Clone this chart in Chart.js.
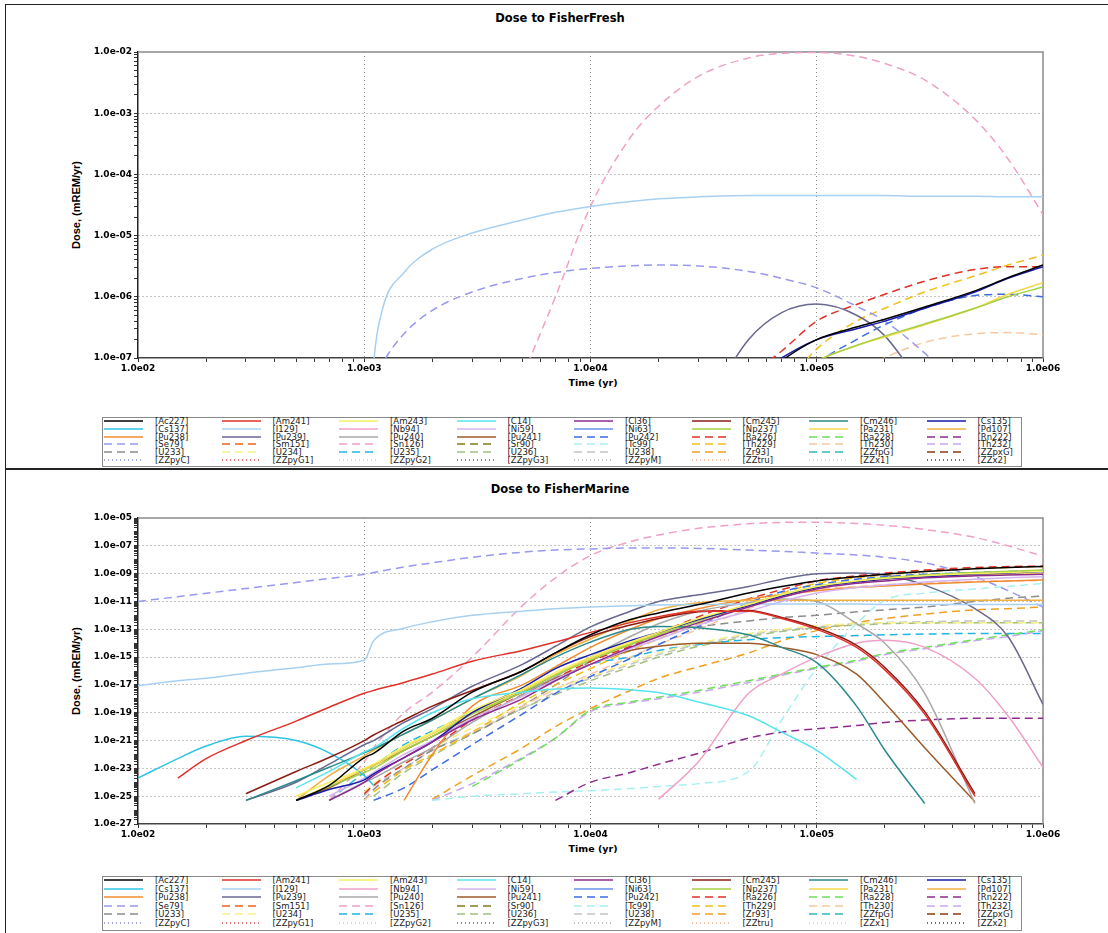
<!DOCTYPE html>
<html>
<head>
<meta charset="utf-8">
<script src="https://cdn.jsdelivr.net/npm/chart.js@4.4.0/dist/chart.umd.min.js"></script>
<style>
  body { margin: 0; width: 1108px; height: 933px; overflow: hidden; background: #fff; position: relative; }
  .panel { position: absolute; left: 5px; width: 1110px; border: 1px solid #222; }
  canvas { position: absolute; left: 0; }
  .title { position: absolute; left: 0; width: 1120px; text-align: center; font: bold 11.5px "DejaVu Sans", sans-serif; color: #000; }
  .xtitle { position: absolute; font: bold 9.5px "DejaVu Sans", sans-serif; transform: translateX(-50%); white-space: nowrap; }
  .ytitle { position: absolute; font: bold 11px "Liberation Sans Narrow", "Liberation Sans", sans-serif; transform: translate(-50%, -50%) rotate(-90deg); white-space: nowrap; }
  .legend { position: absolute; left: 102px; width: 918px; border: 1px solid #8a8a8a; }
  .lg { position: absolute; font: 8.5px "DejaVu Sans", sans-serif; color: #222; line-height: 8px; white-space: nowrap; }
  .sw { position: absolute; }
</style>
</head>
<body>
<div class="panel" style="top:4px;height:463px"></div>
<div class="panel" style="top:469px;height:470px"></div>

<div class="title" style="top:11px">Dose to FisherFresh</div>
<div class="title" style="top:482px">Dose to FisherMarine</div>
<div class="xtitle" style="left:593px;top:377px">Time (yr)</div>
<div class="xtitle" style="left:593px;top:843px">Time (yr)</div>
<div class="ytitle" style="left:76px;top:205px">Dose, (mREM/yr)</div>
<div class="ytitle" style="left:76px;top:671px">Dose, (mREM/yr)</div>

<canvas id="fresh" width="1108" height="400" style="top:0"></canvas>
<canvas id="marine" width="1108" height="400" style="top:468px"></canvas>

<script>
const _ = null;

// legend order (8 per row)
const nuclides = [
  "Ac227", "Am241", "Am243", "C14", "Cl36", "Cm245", "Cm246", "Cs135",
  "Cs137", "I129", "Nb94", "Ni59", "Ni63", "Np237", "Pa231", "Pd107",
  "Pu238", "Pu239", "Pu240", "Pu241", "Pu242", "Ra226", "Ra228", "Rn222",
  "Se79", "Sm151", "Sn126", "Sr90", "Tc99", "Th229", "Th230", "Th232",
  "U233", "U234", "U235", "U236", "U238", "Zr93", "ZZfpG", "ZZpxG",
  "ZZpyC", "ZZpyG1", "ZZpyG2", "ZZpyG3", "ZZpyM", "ZZtru", "ZZx1", "ZZx2"
];
const lineColors = [
  "#000000", "#e0302a", "#f4f060", "#58e4ee", "#8e2a8e", "#8b1c14", "#2a8a8a", "#1a1aa8",
  "#2ec4e4", "#a8d0f0", "#f0a0c8", "#d4b4f0", "#6890e8", "#a4d044", "#f4d84c", "#f0b040",
  "#f08c30", "#686890", "#a8a8a8", "#9c5a28", "#3c6ce0", "#e0302a", "#6ce058", "#8e2a8e",
  "#9898f0", "#f06418", "#f0a0c8", "#7c7c1c", "#a8f0f0", "#f0c018", "#f8c8a0", "#c8a8f0",
  "#8c8c8c", "#f8f088", "#20b4e0", "#a4c080", "#c4c4c4", "#f0a020", "#30b8b8", "#8c3c10",
  "#8888c8", "#e04848", "#a8f088", "#983c90", "#b0b0b0", "#f0b088", "#d0d0d0", "#404040"
];

// ---- Dose to FisherFresh (values before 1e3 yr are all below 1e-7) ----
const freshTime = [1000, 1100, 1200, 1500, 2000, 3000, 5000, 7000, 10000, 15000, 20000,
  30000, 50000, 70000, 100000, 150000, 200000, 300000, 500000, 700000, 1000000];
const fI129  = [1e-10, 8e-8, 6e-7, 2.5e-6, 6e-6, 1.1e-5, 1.8e-5, 2.4e-5, 3.0e-5, 3.6e-5, 4.0e-5, 4.3e-5, 4.5e-5, 4.5e-5, 4.5e-5, 4.5e-5, 4.5e-5, 4.4e-5, 4.4e-5, 4.3e-5, 4.3e-5];
const fSe79  = [1e-8, 4e-8, 8e-8, 2.5e-7, 6e-7, 1.2e-6, 2e-6, 2.5e-6, 2.9e-6, 3.2e-6, 3.3e-6, 3.2e-6, 2.6e-6, 2e-6, 1.4e-6, 7e-7, 4e-7, 1.2e-7, 2e-8, _, _];
const fSn126 = [_, _, _, _, _, _, 5e-8, 1e-6, 3e-5, 4e-4, 1.3e-3, 4e-3, 8e-3, 9.5e-3, 9.8e-3, 8.5e-3, 6.5e-3, 3.5e-3, 8e-4, 1.8e-4, 2.2e-5];
const fPu239 = [_, _, _, _, _, _, _, _, _, _, _, 1e-8, 2e-7, 5.5e-7, 7.6e-7, 5e-7, 2.3e-7, 3e-8, _, _, _];
const fRa226 = [_, _, _, _, _, _, _, _, _, _, _, _, 5e-8, 1.3e-7, 4e-7, 7.5e-7, 1.1e-6, 1.8e-6, 2.8e-6, 3.1e-6, 3.1e-6];
const fTh229 = [_, _, _, _, _, _, _, _, _, _, _, _, _, 3e-8, 1.4e-7, 4e-7, 6.5e-7, 1.2e-6, 2.2e-6, 3.3e-6, 4.8e-6];
const fCs135 = [_, _, _, _, _, _, _, _, _, _, _, _, 4e-8, 1e-7, 2e-7, 3e-7, 4e-7, 6.5e-7, 1.2e-6, 2e-6, 3.1e-6];
const fAc227 = [_, _, _, _, _, _, _, _, _, _, _, _, 3e-8, 9e-8, 2e-7, 3.2e-7, 4.3e-7, 6.8e-7, 1.25e-6, 2.05e-6, 3.3e-6];
const fPa231 = [_, _, _, _, _, _, _, _, _, _, _, _, _, 4e-8, 9e-8, 1.6e-7, 2.2e-7, 3.5e-7, 6.5e-7, 1.1e-6, 1.7e-6];
const fNp237 = [_, _, _, _, _, _, _, _, _, _, _, _, _, 4e-8, 9e-8, 1.6e-7, 2.3e-7, 3.6e-7, 6.5e-7, 1e-6, 1.45e-6];
const fPu242 = [_, _, _, _, _, _, _, _, _, _, _, _, _, 2e-8, 8e-8, 2e-7, 3.5e-7, 6.5e-7, 1.05e-6, 1.1e-6, 1e-6];
const fTh230 = [_, _, _, _, _, _, _, _, _, _, _, _, _, _, _, 5e-8, 1e-7, 1.8e-7, 2.5e-7, 2.6e-7, 2.4e-7];

// ---- Dose to FisherMarine ----
const marineTime = [100, 150, 200, 300, 500, 700, 1000, 1100, 1500, 2000, 3000, 5000, 7000,
  10000, 15000, 20000, 30000, 50000, 70000, 100000, 150000, 200000, 300000, 500000, 700000, 1000000];
const mAc227 = [_, _, _, _, 5e-26, 6e-25, 6e-23, 1.2e-22, 5e-21, 4e-20, 3e-18, 1e-16, 2e-15, 4e-14, 5e-13, 1.5e-12, 6e-12, 4e-11, 1.2e-10, 3e-10, 6e-10, 9e-10, 1.4e-9, 2.2e-9, 2.8e-9, 3.3e-9];
const mAm241 = [_, 2e-24, 5e-23, 1e-21, 2.5e-20, 2.5e-19, 2.5e-18, 4e-18, 1.5e-17, 6e-17, 5e-16, 3e-15, 1.2e-14, 6e-14, 3e-13, 8e-13, 2e-12, 2e-12, 6e-13, 1e-13, 5e-15, 1.2e-16, 8e-20, 1e-25, _, _];
const mAm243 = [_, _, _, _, 1e-25, 1e-24, 1e-23, 2e-23, 4e-22, 4e-21, 1.5e-19, 5e-18, 8e-17, 1e-15, 1.2e-14, 6e-14, 6e-13, 6e-12, 3e-11, 1.2e-10, 3e-10, 4.5e-10, 7e-10, 1e-9, 1.2e-9, 1.5e-9];
const mC14   = [_, _, _, _, 4e-25, 6e-24, 1.5e-22, 3e-22, 8e-21, 1e-19, 1e-18, 3e-18, 5e-18, 6e-18, 4.5e-18, 2.8e-18, 6e-19, 6e-20, 4e-21, 2e-22, 1.6e-24, _, _, _, _, _];
const mCl36  = [_, _, _, _, _, 5e-26, 1e-24, 3e-24, 6e-23, 8e-22, 3e-20, 1e-18, 2e-17, 3e-16, 5e-15, 3e-14, 3e-13, 4e-12, 2e-11, 8e-11, 2e-10, 3e-10, 5e-10, 7e-10, 8e-10, 9e-10];
const mCm245 = [_, _, _, 1.5e-25, 6e-24, 6e-23, 1e-21, 2.5e-21, 3e-20, 3e-19, 4e-18, 1e-16, 2e-15, 3e-14, 2e-13, 6e-13, 1.8e-12, 2.2e-12, 7e-13, 1.3e-13, 7e-15, 1.8e-16, 1.2e-19, 1.5e-25, _, _];
const mCm246 = [_, _, _, 5e-26, 1.3e-24, 1.2e-23, 1.3e-22, 2.5e-22, 3e-21, 3e-20, 1e-18, 6e-17, 1e-15, 1.2e-14, 1e-13, 1.6e-13, 1.3e-13, 4e-14, 5e-15, 4e-16, 3e-19, 2e-22, 3e-26, _, _, _];
const mCs135 = [_, _, _, _, 5e-26, 3e-25, 1.5e-24, 4e-24, 6e-23, 8e-22, 1e-19, 6e-18, 1.5e-16, 1.5e-15, 1.5e-14, 6e-14, 5e-13, 5e-12, 2.5e-11, 1e-10, 2.5e-10, 4e-10, 6e-10, 9e-10, 1.1e-9, 1.4e-9];
const mCs137 = [2e-24, 5e-23, 4e-22, 2e-21, 1e-21, 1.3e-22, 3e-24, 6e-25, _, _, _, _, _, _, _, _, _, _, _, _, _, _, _, _, _, _];
const mI129  = [9e-18, 2e-17, 3e-17, 7e-17, 1.7e-16, 3.2e-16, 6e-16, 1.5e-14, 1.2e-13, 3.5e-13, 1e-12, 2e-12, 3e-12, 4e-12, 5e-12, 5.5e-12, 6e-12, 6.5e-12, 6.5e-12, 6.5e-12, 6.5e-12, 6e-12, 6e-12, 6e-12, 6e-12, 6e-12];
const mNb94  = [_, _, _, _, _, _, _, _, _, _, _, _, _, _, _, 6e-26, 3e-23, 2.5e-18, 6e-17, 1e-15, 1e-14, 1.6e-14, 5e-15, 3e-17, 6e-20, 1.2e-23];
const mNi59  = [_, _, _, _, _, 1e-25, 2e-24, 5e-24, 1e-22, 1e-21, 4e-20, 1.5e-18, 2.5e-17, 3e-16, 4e-15, 2e-14, 2e-13, 2e-12, 1e-11, 4e-11, 1e-10, 1.5e-10, 2.5e-10, 4e-10, 5e-10, 6e-10];
const mNp237 = [_, _, _, _, 5e-26, 5e-25, 5e-24, 1e-23, 2e-22, 2e-21, 8e-20, 3e-18, 5e-17, 6e-16, 8e-15, 4e-14, 4e-13, 6e-12, 3e-11, 1.2e-10, 3e-10, 5e-10, 8e-10, 1.2e-9, 1.5e-9, 1.8e-9];
const mPa231 = [_, _, _, _, 5e-26, 6e-25, 8e-24, 1.5e-23, 3e-22, 3e-21, 1e-19, 4e-18, 6e-17, 8e-16, 1e-14, 5e-14, 5e-13, 5e-12, 2.5e-11, 1e-10, 2.5e-10, 4e-10, 6e-10, 8e-10, 9e-10, 1e-9];
const mPd107 = [_, _, _, _, 5e-26, 3e-24, 8e-23, 2e-22, 3e-21, 3e-20, 1e-18, 5e-17, 1.5e-15, 2e-14, 4e-13, 2.5e-12, 8e-12, 1.15e-11, 1.2e-11, 1.2e-11, 1.2e-11, 1.2e-11, 1.2e-11, 1.2e-11, 1.2e-11, 1.2e-11];
const mPu238 = [_, _, _, _, _, _, _, _, 5e-26, 1e-22, 3e-19, 1e-17, 2e-16, 5e-15, 1e-13, 6e-13, 3e-12, 1.5e-11, 3e-11, 6e-11, 1e-10, 1.3e-10, 1.8e-10, 2.5e-10, 3e-10, 3.5e-10];
const mPu239 = [_, _, _, 5e-26, 1e-24, 2e-23, 5e-22, 1e-21, 2e-20, 2e-19, 8e-18, 3e-16, 6e-15, 1.5e-13, 2e-12, 1e-11, 3e-11, 1.2e-10, 4e-10, 1e-9, 1.1e-9, 8e-10, 1.5e-10, 3e-12, 3e-14, 4e-19];
const mPu240 = [_, _, _, _, _, 5e-26, 1e-24, 2e-24, 3e-23, 3e-22, 2e-20, 2e-18, 4e-17, 1e-15, 3e-14, 2.5e-13, 2e-12, 8e-12, 1.5e-11, 1e-11, 2.5e-13, 1e-14, 2.5e-18, 3e-26, _, _];
const mPu241 = [_, _, _, _, 5e-26, 4e-25, 8e-24, 1.6e-23, 2e-22, 2e-21, 5e-20, 3e-18, 3e-17, 3e-16, 3e-15, 6e-15, 1e-14, 1e-14, 5e-15, 1.5e-15, 6e-17, 5e-19, 3e-22, 4e-26, _, _];
const mPu242 = [_, _, _, _, _, _, _, 5e-26, 4e-25, 8e-24, 5e-22, 8e-20, 2.5e-18, 4e-17, 8e-16, 8e-15, 1.6e-13, 8e-12, 5e-11, 1.6e-10, 4e-10, 6e-10, 9e-10, 1.2e-9, 1.4e-9, 1.6e-9];
const mRa226 = [_, _, _, _, _, _, 1.5e-25, 6e-25, 2e-23, 3e-22, 3e-20, 2e-18, 3e-17, 5e-16, 6e-15, 5e-14, 8e-13, 1.5e-11, 7e-11, 3e-10, 7e-10, 1.1e-9, 1.8e-9, 2.8e-9, 3.2e-9, 3.5e-9];
const mRa228 = [_, _, _, _, _, _, _, _, _, _, 5e-25, 5e-23, 1.5e-21, 1.5e-19, 6e-19, 1.3e-18, 4e-18, 2e-17, 6e-17, 1.8e-16, 6e-16, 1.8e-15, 5e-15, 1.8e-14, 4e-14, 9e-14];
const mRn222 = [_, _, _, _, _, _, _, _, _, _, _, _, 5e-26, 1e-24, 5e-24, 2e-23, 1.2e-22, 1.5e-21, 4e-21, 7e-21, 1.2e-20, 2e-20, 3e-20, 4e-20, 4e-20, 4e-20];
const mSe79  = [1e-11, 2.2e-11, 3.9e-11, 8.5e-11, 2.3e-10, 4.5e-10, 9e-10, 1.2e-9, 3e-9, 6e-9, 1.5e-8, 3.5e-8, 5e-8, 6e-8, 7e-8, 7e-8, 6.5e-8, 5e-8, 4e-8, 3e-8, 2.2e-8, 1.5e-8, 6e-9, 6e-10, 6e-11, 4e-12];
const mSn126 = [_, _, _, _, _, 5e-26, 3e-23, 3e-22, 1e-19, 3e-18, 1e-15, 5e-12, 5e-10, 2e-8, 2e-7, 6e-7, 1.8e-6, 3.8e-6, 4.8e-6, 5e-6, 4e-6, 3e-6, 1.5e-6, 4e-7, 1e-7, 1.8e-8];
const mTc99  = [_, _, _, _, _, _, _, _, _, 5e-26, 1e-25, 1.5e-25, 2e-25, 2.5e-25, 3.5e-25, 5e-25, 8e-25, 6e-24, 3e-20, 1.6e-16, 2.5e-13, 1.2e-11, 4e-11, 8e-11, 1.2e-10, 2e-10];
const mTh229 = [_, _, _, _, _, _, _, 2e-25, 8e-24, 1e-22, 4e-21, 6e-19, 1e-17, 1.5e-16, 3e-15, 2e-14, 2.5e-13, 6e-12, 4e-11, 2e-10, 5e-10, 8e-10, 1.4e-9, 2.3e-9, 2.8e-9, 3.2e-9];
const mTh230 = [_, _, _, _, _, _, 5e-26, 2e-25, 8e-24, 1e-22, 4e-21, 3e-19, 5e-18, 6e-17, 1e-15, 8e-15, 1e-13, 3e-12, 2e-11, 7e-11, 1.2e-10, 1.6e-10, 2.2e-10, 2.8e-10, 3e-10, 3.2e-10];
const mTh232 = [_, _, _, _, _, _, _, _, _, 5e-26, 8e-25, 6e-23, 1.5e-21, 1.2e-19, 5e-19, 1e-18, 3e-18, 1.5e-17, 5e-17, 1.5e-16, 5e-16, 1.5e-15, 4e-15, 1.5e-14, 3e-14, 8e-14];
const mU233  = [_, _, _, _, _, _, 5e-26, 3e-25, 1e-23, 2e-22, 3e-21, 3e-19, 1e-17, 5e-16, 8e-15, 4e-14, 1.5e-13, 4e-13, 7e-13, 1e-12, 1.8e-12, 2.5e-12, 4e-12, 1e-11, 1.7e-11, 2.5e-11];
const mU234  = [_, _, _, _, _, _, 2e-25, 8e-25, 2e-23, 3e-22, 8e-21, 4e-19, 5e-18, 4e-17, 4e-16, 2e-15, 1e-14, 5e-14, 1e-13, 1.8e-13, 2.5e-13, 3e-13, 3e-13, 3e-13, 3e-13, 3e-13];
const mU235  = [_, _, _, _, _, 5e-26, 5e-24, 1.5e-23, 5e-22, 5e-21, 1e-19, 3e-18, 2e-17, 3e-16, 1e-15, 3e-15, 8e-15, 1.8e-14, 2.5e-14, 3e-14, 3.5e-14, 4e-14, 4.5e-14, 5e-14, 5e-14, 5e-14];
const mU236  = [_, _, _, _, _, _, _, 1e-25, 5e-24, 8e-23, 3e-21, 2e-19, 2e-18, 2e-17, 2e-16, 1e-15, 6e-15, 3e-14, 7e-14, 1.3e-13, 2e-13, 2.5e-13, 2.8e-13, 3e-13, 3e-13, 3e-13];
const mU238  = [_, _, _, _, _, _, 1e-25, 5e-25, 1e-23, 2e-22, 4e-21, 2e-19, 3e-18, 3e-17, 3e-16, 1.5e-15, 8e-15, 4e-14, 8e-14, 1.5e-13, 2.5e-13, 3e-13, 3.5e-13, 4e-13, 4e-13, 4e-13];
const mZr93  = [_, _, _, _, _, _, _, _, _, 6e-26, 3e-24, 3e-22, 1e-20, 2e-19, 4e-18, 3e-17, 2e-16, 2e-15, 1.5e-14, 8e-14, 3e-13, 6e-13, 1.2e-12, 2.5e-12, 3e-12, 4e-12];

const freshSeries = [
  ["Ac227", fAc227], ["Cs135", fCs135], ["I129", fI129], ["Np237", fNp237], ["Pa231", fPa231],
  ["Pu239", fPu239], ["Pu242", fPu242], ["Ra226", fRa226], ["Se79", fSe79], ["Sn126", fSn126],
  ["Th229", fTh229], ["Th230", fTh230]
];
const marineSeries = [
  ["Ac227", mAc227], ["Am241", mAm241], ["Am243", mAm243], ["C14", mC14], ["Cl36", mCl36],
  ["Cm245", mCm245], ["Cm246", mCm246], ["Cs135", mCs135], ["Cs137", mCs137], ["I129", mI129],
  ["Nb94", mNb94], ["Ni59", mNi59], ["Np237", mNp237], ["Pa231", mPa231], ["Pd107", mPd107],
  ["Pu238", mPu238], ["Pu239", mPu239], ["Pu240", mPu240], ["Pu241", mPu241], ["Pu242", mPu242],
  ["Ra226", mRa226], ["Ra228", mRa228], ["Rn222", mRn222], ["Se79", mSe79], ["Sn126", mSn126],
  ["Tc99", mTc99], ["Th229", mTh229], ["Th230", mTh230], ["Th232", mTh232], ["U233", mU233],
  ["U234", mU234], ["U235", mU235], ["U236", mU236], ["U238", mU238], ["Zr93", mZr93]
];

function dashFor(i) {
  if (i < 20) return [];
  if (i < 40) return [8, 5];
  return [1, 3];
}

function makeDatasets(times, series) {
  return series.map(([name, vals]) => {
    const i = nuclides.indexOf(name);
    return {
      label: name,
      data: vals.map((v, k) => ({ x: times[k], y: v })),
      borderColor: lineColors[i],
      borderWidth: 1.5,
      borderDash: dashFor(i),
      pointRadius: 0,
      fill: false,
      spanGaps: false,
      cubicInterpolationMode: "monotone"
    };
  });
}

function logTicks(lo, hi) {
  const out = [];
  for (let e = lo; e < hi; e++) {
    for (let m = 1; m < 10; m++) out.push({ value: m * Math.pow(10, e) });
  }
  out.push({ value: Math.pow(10, hi) });
  return out;
}

function expOf(v) {
  const l = Math.log10(v);
  const e = Math.round(l);
  return Math.abs(l - e) < 1e-6 ? e : null;
}

function expLabel(e) {
  return "1.0e" + (e < 0 ? "-" : "") + String(Math.abs(e)).padStart(2, "0");
}

// draws the grey top/right edge of the plot box
const framePlugin = {
  id: "frame",
  beforeDatasetsDraw(chart) {
    const { ctx, chartArea: a } = chart;
    ctx.save();
    ctx.strokeStyle = "#8a8a8a";
    ctx.lineWidth = 1.5;
    ctx.beginPath();
    ctx.moveTo(a.left, a.top);
    ctx.lineTo(a.right, a.top);
    ctx.lineTo(a.right, a.bottom);
    ctx.stroke();
    ctx.restore();
  }
};

function makeChart(id, times, series, yLo, yHi, yShown, padTop, padBottom) {
  const tickFont = { family: "DejaVu Sans", size: 9, weight: "bold" };
  return new Chart(document.getElementById(id), {
    type: "line",
    data: { datasets: makeDatasets(times, series) },
    options: {
      responsive: false,
      animation: false,
      events: [],
      layout: { padding: { left: 0, right: 65, top: padTop, bottom: padBottom } },
      plugins: { legend: { display: false }, tooltip: { enabled: false } },
      scales: {
        x: {
          type: "logarithmic",
          min: 100,
          max: 1000000,
          afterBuildTicks: (s) => { s.ticks = logTicks(2, 6); },
          afterFit: (s) => { s.height = 20; },
          ticks: {
            autoSkip: false, maxRotation: 0, minRotation: 0, padding: 1,
            color: "#000", font: tickFont,
            callback: (v) => { const e = expOf(v); return e === null ? "" : expLabel(e); }
          },
          grid: {
            color: (c) => {
              const e = c.tick ? expOf(c.tick.value) : null;
              return e !== null && e > 2 && e < 6 ? "#8a8a8a" : "rgba(0,0,0,0)";
            },
            tickColor: "#333",
            tickLength: 4,
            lineWidth: 1
          },
          border: { display: true, color: "#444", width: 1.5, dash: [1, 3] }
        },
        y: {
          type: "logarithmic",
          min: Math.pow(10, yLo),
          max: Math.pow(10, yHi),
          afterBuildTicks: (s) => { s.ticks = logTicks(yLo, yHi); },
          afterFit: (s) => { s.width = 138; },
          ticks: {
            autoSkip: false, padding: 2, color: "#000", font: tickFont,
            callback: (v) => { const e = expOf(v); return e !== null && yShown(e) ? expLabel(e) : ""; }
          },
          grid: {
            color: (c) => {
              const e = c.tick ? expOf(c.tick.value) : null;
              return e !== null && yShown(e) && e > yLo && e < yHi ? "#8a8a8a" : "rgba(0,0,0,0)";
            },
            tickColor: "#333",
            tickLength: 4,
            lineWidth: 1
          },
          border: { display: true, color: "#222", width: 1.5, dash: [1, 3] }
        }
      }
    },
    plugins: [framePlugin]
  });
}

makeChart("fresh", freshTime, freshSeries, -7, -2, () => true, 52, 22);
makeChart("marine", marineTime, marineSeries, -27, -5, (e) => Math.abs(e) % 2 === 1, 50, 24);

// boxed legend tables under each chart
function buildLegend(top, height, rowStep) {
  const box = document.createElement("div");
  box.className = "legend";
  box.style.top = top + "px";
  box.style.height = height + "px";
  document.body.appendChild(box);
  nuclides.forEach((name, i) => {
    const r = Math.floor(i / 8), c = i % 8;
    const x = 104 + c * 117.5;
    const y = top + 4 + r * rowStep;
    const dash = dashFor(i);
    const sw = document.createElementNS("http://www.w3.org/2000/svg", "svg");
    sw.setAttribute("class", "sw");
    sw.setAttribute("width", "40");
    sw.setAttribute("height", "4");
    sw.style.left = x + "px";
    sw.style.top = (y - 2) + "px";
    const ln = document.createElementNS("http://www.w3.org/2000/svg", "line");
    ln.setAttribute("x1", "0"); ln.setAttribute("x2", "39");
    ln.setAttribute("y1", "2"); ln.setAttribute("y2", "2");
    ln.setAttribute("stroke", lineColors[i]);
    ln.setAttribute("stroke-width", "1.6");
    if (dash.length) ln.setAttribute("stroke-dasharray", dash.join(" "));
    sw.appendChild(ln);
    document.body.appendChild(sw);
    const lab = document.createElement("div");
    lab.className = "lg";
    lab.textContent = "[" + name + "]";
    lab.style.left = (x + 51) + "px";
    lab.style.top = (y - 4) + "px";
    document.body.appendChild(lab);
  });
}
buildLegend(417, 48, 7.8);
buildLegend(876, 53, 8.6);
</script>
</body>
</html>
